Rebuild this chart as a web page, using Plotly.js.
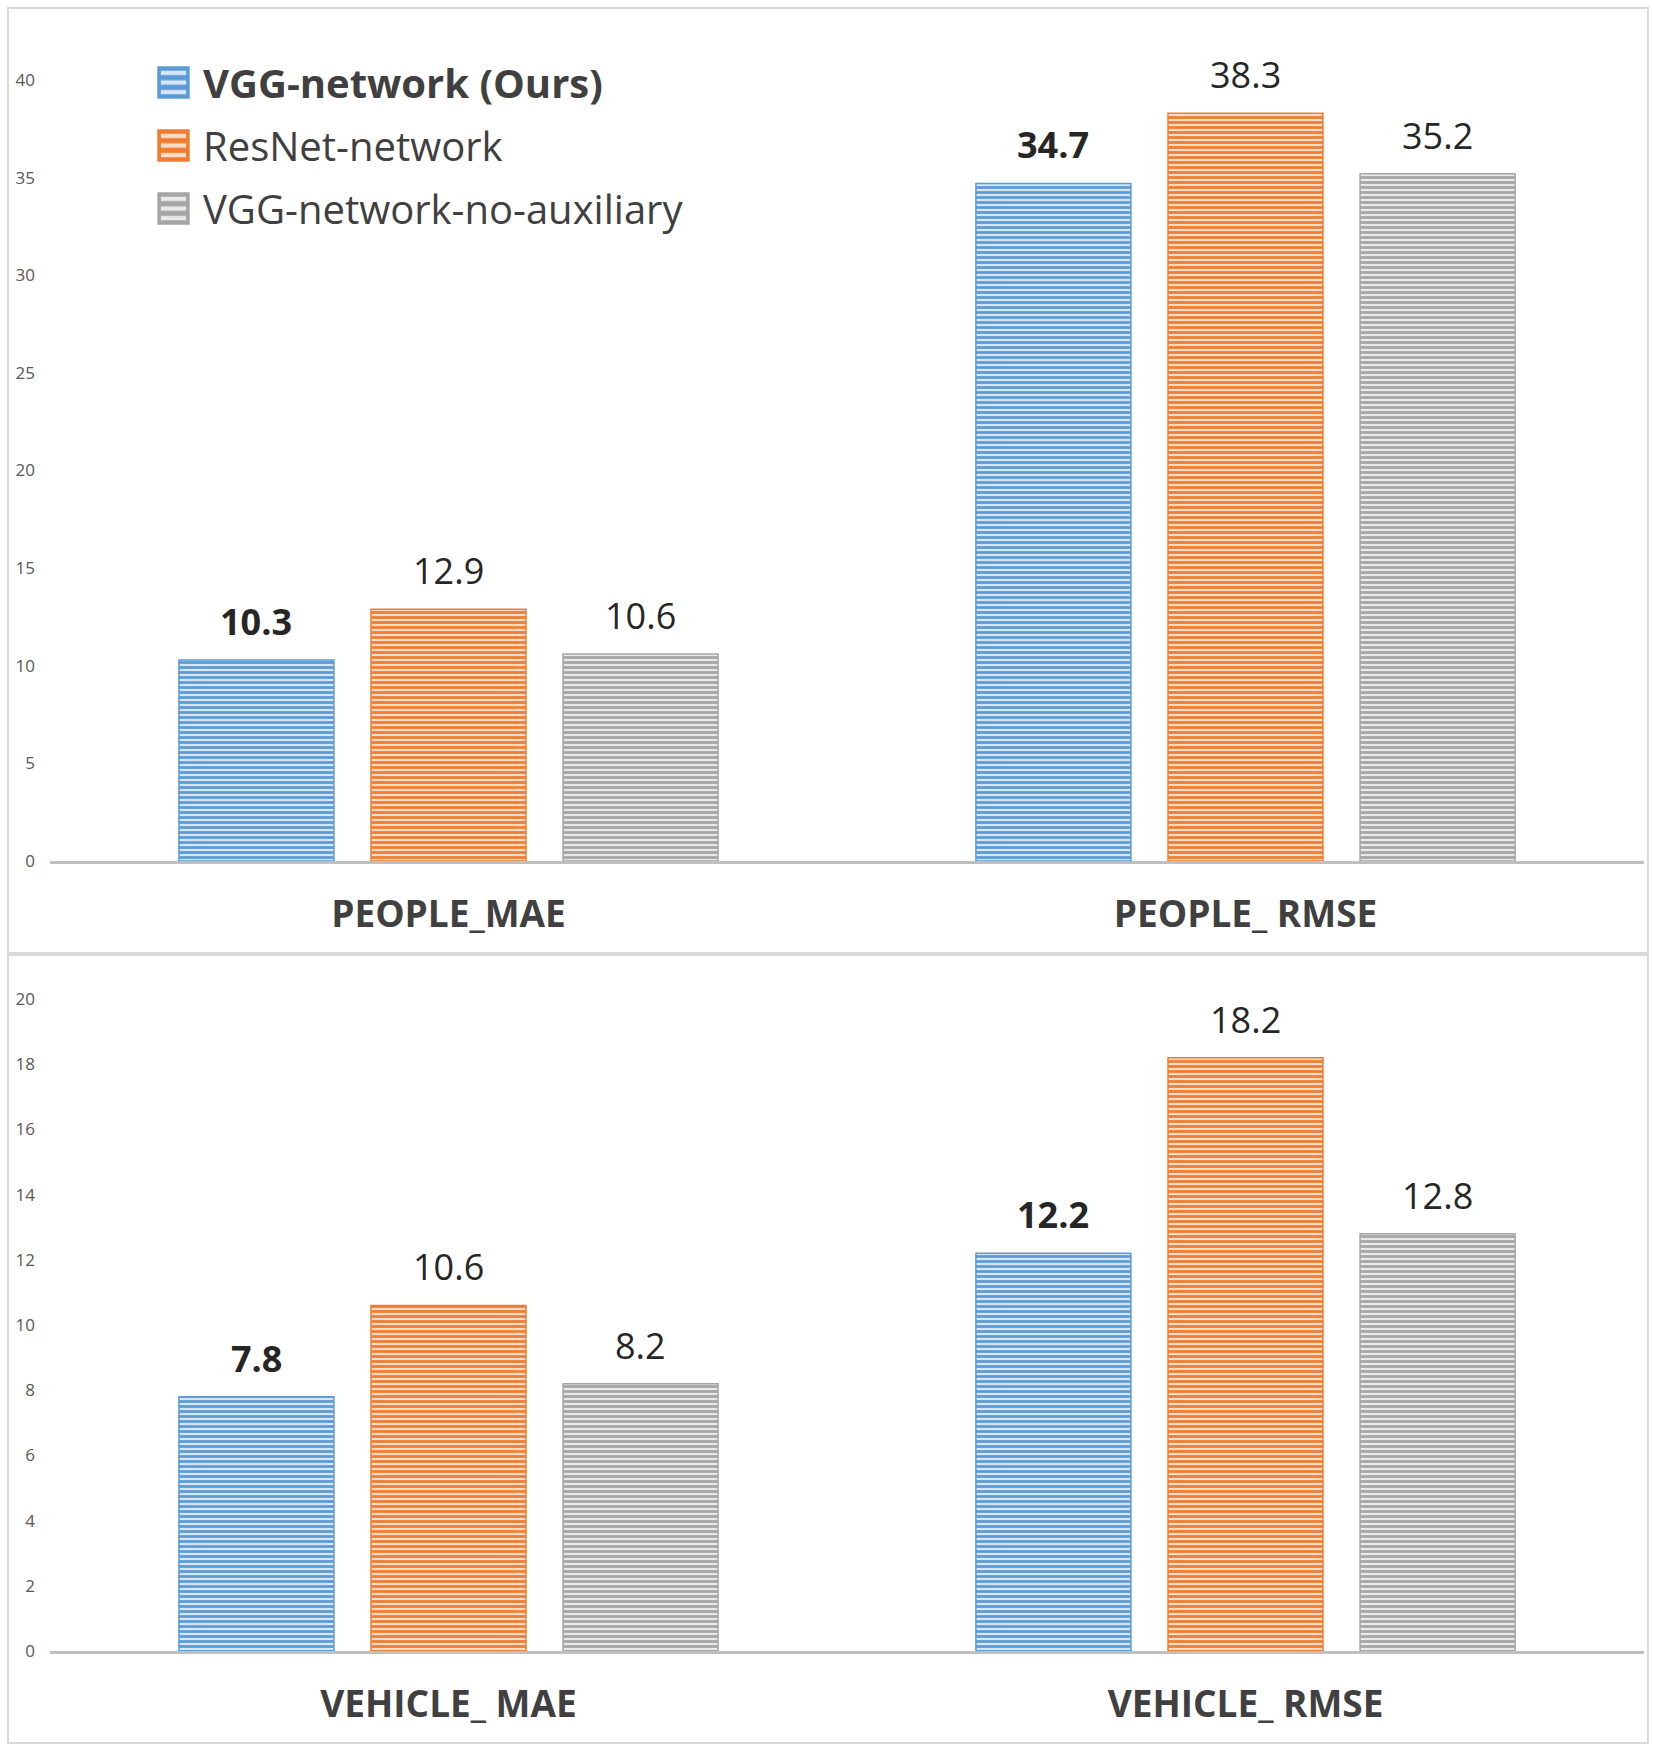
<!DOCTYPE html>
<html>
<head>
<meta charset="utf-8">
<script src="https://cdn.plot.ly/plotly-3.0.1.min.js"></script>
<style>html,body{margin:0;padding:0;background:#fff;}#chart{width:1654px;height:1748px;}</style>
</head>
<body>
<div id="chart"></div>
<script>
// ---- data ----
var seriesNames = ['VGG-network (Ours)', 'ResNet-network', 'VGG-network-no-auxiliary'];
var topCategories = ['PEOPLE_MAE', 'PEOPLE_ RMSE'];
var bottomCategories = ['VEHICLE_ MAE', 'VEHICLE_ RMSE'];
var topOurs = [10.3, 34.7];
var topResNet = [12.9, 38.3];
var topNoAux = [10.6, 35.2];
var bottomOurs = [7.8, 12.2];
var bottomResNet = [10.6, 18.2];
var bottomNoAux = [8.2, 12.8];
var topTicks = [0, 5, 10, 15, 20, 25, 30, 35, 40];
var bottomTicks = [0, 2, 4, 6, 8, 10, 12, 14, 16, 18, 20];

// ---- styles ----
var colors = ['#5B9BD5', '#ED7D31', '#A5A5A5'];
var lightColors = ['#D6E6F5', '#FADCC8', '#E9E9E9'];
var W = 1654, H = 1748;
var FONT = 'Open Sans, Noto Sans, sans-serif';
var bargap = 0.277, bargroupgap = 0.193;
var slot = (1 - bargap) / 3;
var catIdx = [0, 1];

var topSeries = [topOurs, topResNet, topNoAux];
var bottomSeries = [bottomOurs, bottomResNet, bottomNoAux];

var traces = [];
var annotations = [];
function addPanel(series, xa, ya, showLegend) {
  series.forEach(function (vals, k) {
    traces.push({
      type: 'bar',
      x: catIdx,
      y: vals,
      name: k === 0 ? '<b>' + seriesNames[k] + '</b>' : seriesNames[k],
      legendgroup: 'g' + k,
      showlegend: showLegend,
      xaxis: xa, yaxis: ya,
      hoverinfo: 'skip',
      marker: {
        color: colors[k],
        line: {color: colors[k], width: 1.5},
        pattern: {shape: '-', fgcolor: colors[k], bgcolor: lightColors[k], size: 5, solidity: 0.55}
      }
    });
    vals.forEach(function (v, i) {
      annotations.push({
        xref: xa, yref: ya,
        x: catIdx[i] + (k - 1) * slot,
        y: v,
        text: k === 0 ? '<b>' + v.toFixed(1) + '</b>' : v.toFixed(1),
        showarrow: false,
        yanchor: 'bottom',
        yshift: 12,
        font: {family: FONT, size: 36, color: '#262626'}
      });
    });
  });
}
addPanel(topSeries, 'x', 'y', true);
addPanel(bottomSeries, 'x2', 'y2', false);

function px(x) { return x / W; }
function py(y) { return 1 - y / H; }

var xBase = {
  domain: [px(50), px(1644)],
  range: [-0.5, 1.5],
  tickvals: catIdx,
  showline: true, linecolor: '#BFBFBF', linewidth: 3,
  ticks: 'outside', ticklen: 19, tickcolor: 'rgba(0,0,0,0)',
  tickfont: {family: FONT, size: 37, color: '#404040', weight: 'bold'},
  showgrid: false, zeroline: false, fixedrange: true
};
var yBase = {
  showgrid: false, zeroline: false, showline: false,
  ticks: '', ticklabelstandoff: 14,
  tickfont: {family: FONT, size: 17, color: '#595959'},
  fixedrange: true
};

var layout = {
  width: W, height: H,
  margin: {l: 0, r: 0, t: 0, b: 0},
  paper_bgcolor: '#fff', plot_bgcolor: 'rgba(0,0,0,0)',
  barmode: 'group', bargap: bargap, bargroupgap: bargroupgap,
  showlegend: true,
  legend: {
    x: px(144), y: py(50), xanchor: 'left', yanchor: 'top',
    font: {family: FONT, size: 40, color: '#404040'},
    itemwidth: 49, traceorder: 'grouped', tracegroupgap: 8,
    bgcolor: 'rgba(0,0,0,0)'
  },
  xaxis: Object.assign({}, xBase, {anchor: 'y', ticktext: topCategories}),
  yaxis: Object.assign({}, yBase, {anchor: 'x', domain: [py(861), py(80)], range: [0, 40], tickvals: topTicks}),
  xaxis2: Object.assign({}, xBase, {anchor: 'y2', ticktext: bottomCategories}),
  yaxis2: Object.assign({}, yBase, {anchor: 'x2', domain: [py(1651), py(999)], range: [0, 20], tickvals: bottomTicks}),
  annotations: annotations,
  shapes: [
    {type: 'rect', xref: 'paper', yref: 'paper', x0: px(8), x1: px(1648), y0: py(953), y1: py(8), line: {color: '#D9D9D9', width: 2}},
    {type: 'rect', xref: 'paper', yref: 'paper', x0: px(8), x1: px(1648), y0: py(1743), y1: py(955), line: {color: '#D9D9D9', width: 2}}
  ]
};

Plotly.newPlot('chart', traces, layout, {displayModeBar: false, staticPlot: true}).then(function () {
  document.querySelectorAll('#chart .legendpoints path').forEach(function (p) {
    var t = p.getAttribute('transform') || '';
    p.setAttribute('transform', t + ' scale(2.4)');
  });
});
</script>
</body>
</html>
